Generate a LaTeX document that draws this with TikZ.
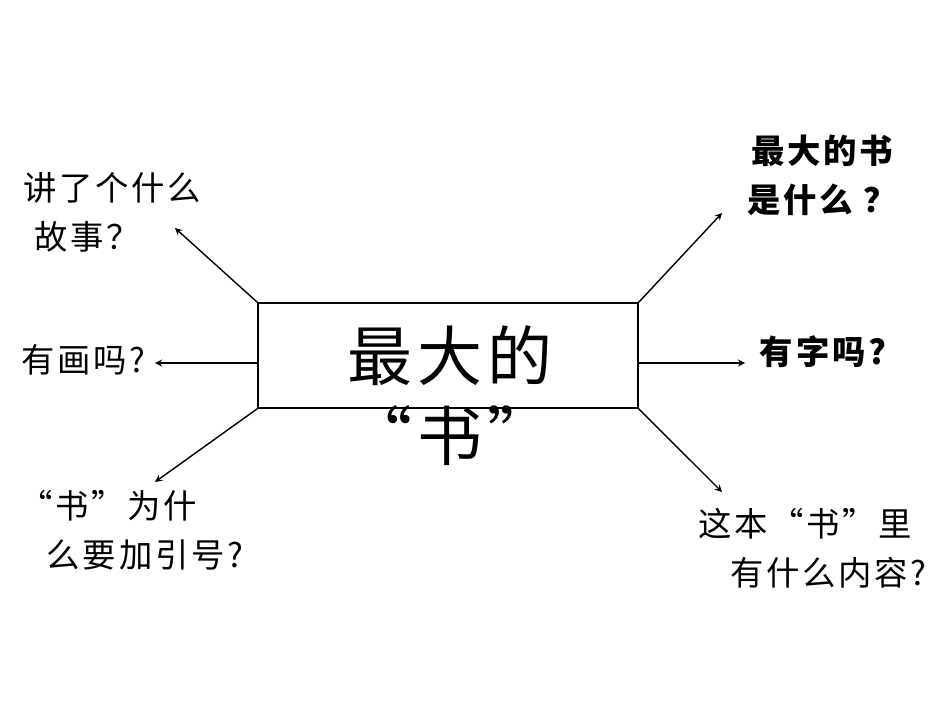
\documentclass[tikz,border=0pt]{standalone}
\usepackage{fontspec}
\newfontfamily\cjk[LetterSpace=8]{Noto Sans CJK SC}
\usetikzlibrary{positioning}
\begin{document}
\begin{tikzpicture}[x=0.02cm,y=-0.02cm,
    txt/.style={font=\cjk\fontsize{19}{28}\selectfont, align=center, inner sep=0pt},
    btxt/.style={font=\cjk\bfseries\fontsize{19}{28}\selectfont, align=center, inner sep=0pt},
    arr/.style={->, >=stealth, thick}]
  \useasboundingbox (0,0) rectangle (950,713);

  % Kasten
  \node[draw, thick, minimum width=7.6cm, minimum height=2.1cm, inner sep=0pt] (box) at (448,355.5) {};
  \node[font=\cjk\fontsize{37}{40}\selectfont, inner sep=0pt] (titel) at (450,356) {最大的};
  \node[font=\cjk\fontsize{37}{40}\selectfont, inner sep=0pt] (titelb) at (450,436) {“书”};

  % Anfang und Ende der Pfeile
  \coordinate (sl) at (258,363);
  \coordinate (sr) at (638,363);
  \coordinate (tl) at (175,228);
  \coordinate (ml) at (155,363);
  \coordinate (bl) at (155,482);
  \coordinate (tr) at (722,213);
  \coordinate (mr) at (745,363);
  \coordinate (br) at (722,492);

  \draw[arr] (box.north west) -- (tl);
  \draw[arr] (sl) -- (ml);
  \draw[arr] (box.south west) -- (bl);
  \draw[arr] (box.north east) -- (tr);
  \draw[arr] (sr) -- (mr);
  \draw[arr] (box.south east) -- (br);

  % Fragen
  \node[txt] (q1) at (112,212) {讲了个什么\\\hspace*{-1.5em}故事？};
  \node[txt] (q2) at (83,360) {有画吗?};
  \node[txt] (q3) at (145,530) {\hspace*{-2.2em}“书”为什\\么要加引号?};
  \node[btxt] (q4) at (822,175) {最大的书\\是什么 ？};
  \node[btxt] (q5) at (823,352) {有字吗?};
  \node[txt] (q6) at (805,548) {这本“书”里\\\hspace*{1.4em}有什么内容?};
\end{tikzpicture}
\end{document}
